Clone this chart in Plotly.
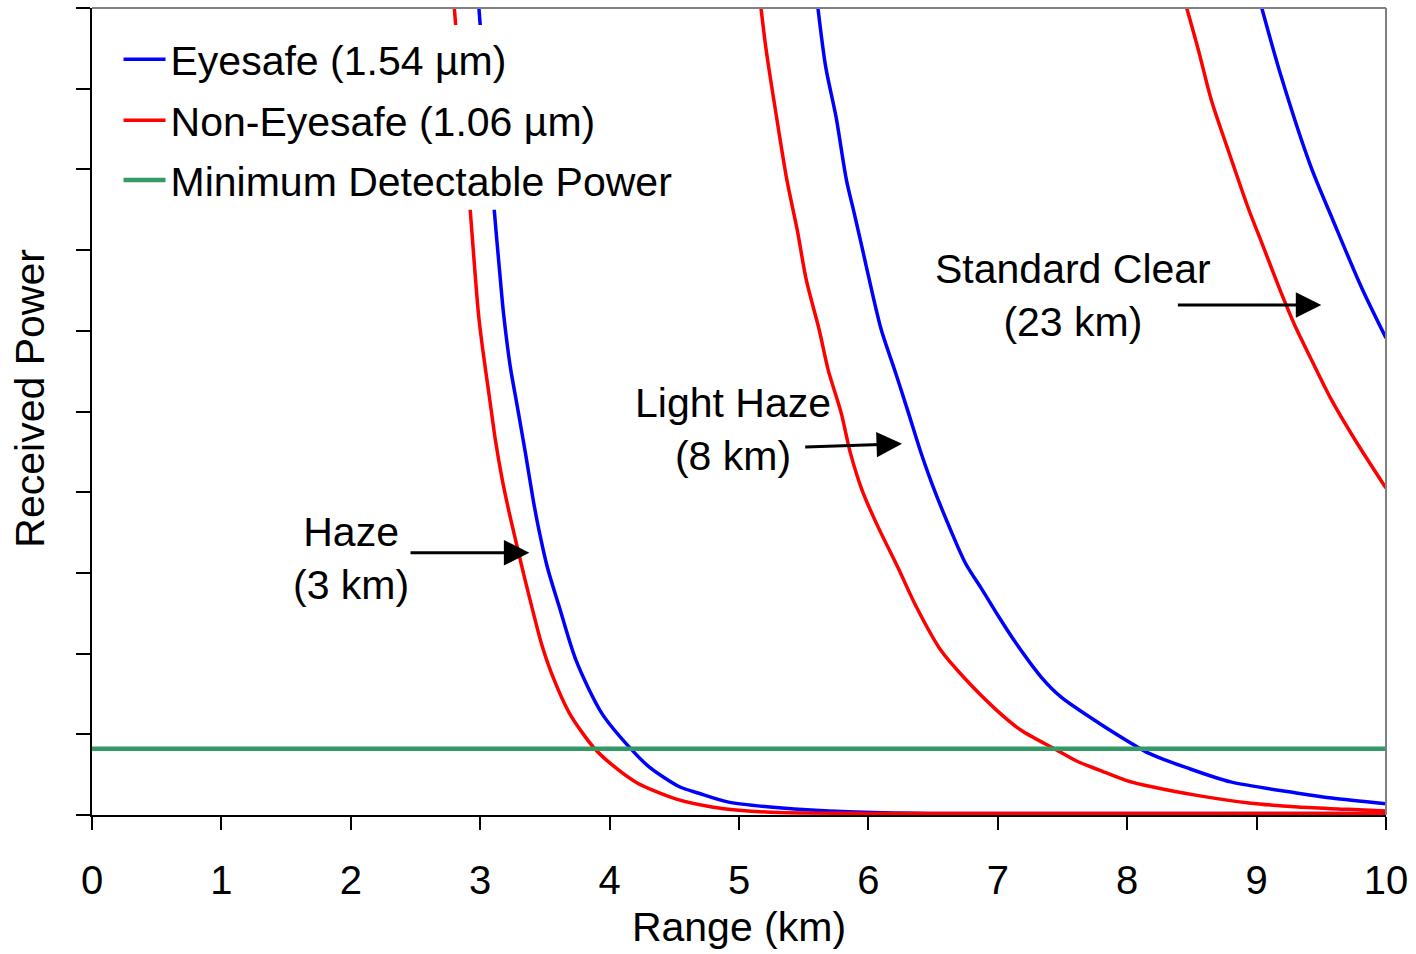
import plotly.graph_objects as go

# ---- data (Range in km, Received Power in arbitrary units 0-10) ----
haze_red_x = [2.80, 2.924, 2.986, 3.017, 3.071, 3.117, 3.171, 3.225, 3.279, 3.341, 3.380, 3.472, 3.55,
              3.69, 3.88, 4.02, 4.21, 4.51, 4.79, 5.00, 5.31, 6.00, 7.00, 8.00, 9.00, 10.0]
haze_red_y = [10.0, 7.47, 6.22, 5.80, 5.18, 4.65, 4.15, 3.74, 3.37, 2.95, 2.70, 2.13, 1.76,
              1.26, 0.83, 0.62, 0.40, 0.20, 0.10, 0.06, 0.03, 0.02, 0.02, 0.02, 0.02, 0.02]

haze_blue_x = [2.99, 3.11, 3.156, 3.18, 3.233, 3.287, 3.349, 3.41, 3.449, 3.519, 3.611, 3.74, 3.94,
               4.17, 4.31, 4.54, 4.69, 4.92, 5.31, 5.85, 6.47, 7.00, 8.00, 9.00, 10.0]
haze_blue_y = [10.0, 7.47, 6.63, 6.22, 5.55, 5.06, 4.49, 3.90, 3.57, 3.07, 2.58, 1.92, 1.26,
               0.81, 0.59, 0.35, 0.27, 0.16, 0.09, 0.04, 0.02, 0.02, 0.02, 0.02, 0.02]

light_red_x = [5.17, 5.21, 5.29, 5.37, 5.45, 5.52, 5.62, 5.69, 5.79, 5.86, 5.95, 6.06, 6.23, 6.37,
               6.56, 6.74, 6.99, 7.18, 7.45, 7.62, 7.78, 7.99, 8.19, 8.55, 8.94, 9.32, 9.71, 10.0]
light_red_y = [10.0, 9.48, 8.65, 7.87, 7.25, 6.63, 6.01, 5.51, 4.98, 4.49, 4.03, 3.62, 3.06, 2.58,
               2.04, 1.70, 1.30, 1.05, 0.81, 0.66, 0.56, 0.43, 0.35, 0.24, 0.15, 0.10, 0.07, 0.05]

light_blue_x = [5.61, 5.67, 5.75, 5.83, 5.89, 5.95, 6.03, 6.10, 6.21, 6.31, 6.40, 6.49, 6.62, 6.75,
                6.88, 7.01, 7.14, 7.34, 7.49, 7.78, 8.03, 8.16, 8.47, 8.80, 9.32, 9.58, 10.0]
light_blue_y = [10.0, 9.27, 8.65, 7.87, 7.46, 7.04, 6.47, 6.01, 5.48, 4.98, 4.52, 4.11, 3.59, 3.12,
                2.79, 2.45, 2.13, 1.70, 1.46, 1.14, 0.89, 0.77, 0.58, 0.41, 0.27, 0.21, 0.14]

clear_red_x = [8.46, 8.55, 8.65, 8.78, 8.94, 9.04, 9.19, 9.30, 9.40, 9.58, 9.76, 10.0]
clear_red_y = [10.0, 9.48, 8.86, 8.24, 7.50, 7.09, 6.47, 6.05, 5.72, 5.14, 4.65, 4.05]

clear_blue_x = [9.04, 9.19, 9.42, 9.59, 9.81, 10.0]
clear_blue_y = [10.0, 9.15, 8.03, 7.37, 6.54, 5.91]

min_power_x = [0.0, 10.0]
min_power_y = [0.82, 0.82]

x_ticks = [0, 1, 2, 3, 4, 5, 6, 7, 8, 9, 10]
y_ticks = [0, 1, 2, 3, 4, 5, 6, 7, 8, 9, 10]

BLUE = "#0000FF"
RED = "#FF0000"
GREEN = "#339966"
FONT = "Liberation Sans, Arial, sans-serif"

fig = go.Figure()

blue_sets = [(haze_blue_x, haze_blue_y), (light_blue_x, light_blue_y), (clear_blue_x, clear_blue_y)]
red_sets = [(haze_red_x, haze_red_y), (light_red_x, light_red_y), (clear_red_x, clear_red_y)]

for i, (xs, ys) in enumerate(blue_sets):
    fig.add_trace(go.Scatter(x=xs, y=ys, mode="lines", name="Eyesafe (1.54 µm)",
                             legend="legend", legendgroup="eye", showlegend=(i == 0),
                             line=dict(color=BLUE, width=3.5, shape="spline", smoothing=0.8)))
for i, (xs, ys) in enumerate(red_sets):
    fig.add_trace(go.Scatter(x=xs, y=ys, mode="lines", name="Non-Eyesafe (1.06 µm)",
                             legend="legend2", legendgroup="noneye", showlegend=(i == 0),
                             line=dict(color=RED, width=3.5, shape="spline", smoothing=0.8)))
fig.add_trace(go.Scatter(x=min_power_x, y=min_power_y, mode="lines", name="Minimum Detectable Power",
                         legend="legend3", line=dict(color=GREEN, width=4.5)))

# labels and arrows
labels = [
    ("Haze<br>(3 km)", 2.00, 3.18, 2.45, 3.25, 3.38, 3.25),
    ("Light Haze<br>(8 km)", 4.95, 4.78, 5.50, 4.56, 6.26, 4.60),
    ("Standard Clear<br>(23 km)", 7.58, 6.44, 8.38, 6.32, 9.50, 6.32),
]
for text, tx, ty, ax0, ay0, ax1, ay1 in labels:
    fig.add_annotation(x=tx, y=ty, text=text, showarrow=False, xref="x", yref="y",
                       font=dict(size=41, color="black", family=FONT), align="center")
    fig.add_annotation(x=ax1, y=ay1, ax=ax0, ay=ay0, xref="x", yref="y", axref="x", ayref="y",
                       text="", showarrow=True, arrowhead=2, arrowsize=1.7, arrowwidth=3,
                       arrowcolor="black")

# y-axis title
fig.add_annotation(x=-0.048, y=0.517, xref="paper", yref="paper", text="Received Power",
                   textangle=-90, showarrow=False, xanchor="center", yanchor="middle",
                   font=dict(size=41, color="black", family=FONT))

# opaque legend box (hides curves behind the legend, as in the reference)
fig.add_shape(type="rect", xref="paper", yref="paper", x0=0.01, x1=0.454, y0=0.75, y1=0.979,
              fillcolor="white", line=dict(width=0), layer="above")

# gray top/right frame
fig.add_shape(type="line", xref="paper", yref="paper", x0=0, x1=1, y0=1, y1=1,
              line=dict(color="#808080", width=2))
fig.add_shape(type="line", xref="paper", yref="paper", x0=1, x1=1, y0=0, y1=1,
              line=dict(color="#808080", width=2))

leg_common = dict(x=0.0205, xanchor="left", yanchor="top", bgcolor="rgba(0,0,0,0)",
                  font=dict(size=41, family=FONT, color="black"), itemwidth=42)

fig.update_layout(
    width=1416, height=954,
    margin=dict(l=92, r=28, t=8, b=139),
    paper_bgcolor="white", plot_bgcolor="white",
    font=dict(family=FONT, size=40, color="black"),
    showlegend=True,
    legend=dict(y=0.9777, **leg_common),
    legend2=dict(y=0.9021, **leg_common),
    legend3=dict(y=0.8278, **leg_common),
    xaxis=dict(range=[0, 10], tickvals=x_ticks, ticks="outside", ticklen=13, tickwidth=1.5,
               tickcolor="black", showline=True, linecolor="black", linewidth=2,
               showgrid=False, zeroline=False, ticklabelstandoff=16,
               title=dict(text="Range (km)", font=dict(size=41), standoff=11),
               layer="below traces"),
    yaxis=dict(range=[0, 10], tickvals=y_ticks, ticks="outside", ticklen=14, tickwidth=1.5,
               tickcolor="black", showline=True, linecolor="black", linewidth=2,
               showgrid=False, zeroline=False, showticklabels=False,
               layer="below traces"),
)

fig.write_html("out.html")
